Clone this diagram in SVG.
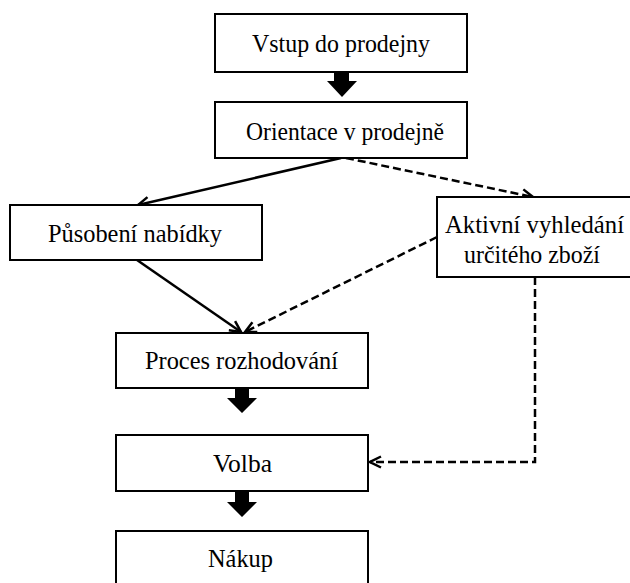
<svg xmlns="http://www.w3.org/2000/svg" width="630" height="583" viewBox="0 0 630 583">
  <style>
    .box { fill: #ffffff; stroke: #000000; stroke-width: 2; }
    .lbl { font-family: "Liberation Serif", "Times New Roman", serif; font-size: 26px; fill: #000000; text-anchor: start; }
    .solid { fill: none; stroke: #000000; stroke-width: 2.5; }
    .dash { fill: none; stroke: #000000; stroke-width: 2.5; stroke-dasharray: 8 4; }
    .fat { fill: #000000; }
  </style>
  <defs>
    <marker id="head" viewBox="0 0 14 14" refX="12.5" refY="7" markerWidth="14" markerHeight="14" markerUnits="userSpaceOnUse" orient="auto">
      <path d="M1.5,1.5 L12.5,7 L1.5,12.5" fill="none" stroke="#000000" stroke-width="2.5"/>
    </marker>
  </defs>
  <rect width="630" height="583" fill="#ffffff"/>

  <!-- connectors -->
  <g id="connectors">
    <!-- block arrows between stacked steps -->
    <path class="fat" d="M334,72 H349 V81 H357 L342,97 L327,81 H334 Z"/>
    <path class="fat" d="M235,388 H249 V398 H257 L242,413 L227,398 H235 Z"/>
    <path class="fat" d="M235,491 H249 V502 H257 L242,517 L227,502 H235 Z"/>
    <!-- branches -->
    <line class="solid" x1="341" y1="158" x2="138" y2="205" marker-end="url(#head)"/>
    <line class="dash" x1="346" y1="158" x2="533" y2="197" marker-end="url(#head)"/>
    <line class="solid" x1="137" y1="260" x2="241" y2="332" marker-end="url(#head)"/>
    <line class="dash" x1="437" y1="237" x2="245" y2="332" marker-end="url(#head)"/>
    <polyline class="dash" points="535,277 535,462 370,462" marker-end="url(#head)"/>
  </g>

  <g id="vstup">
    <rect class="box" x="215" y="14" width="252" height="58"/>
    <text class="lbl" x="252" y="52" textLength="178" lengthAdjust="spacingAndGlyphs">Vstup do prodejny</text>
  </g>
  <g id="orientace">
    <rect class="box" x="215" y="102" width="252" height="56"/>
    <text class="lbl" x="246" y="140" textLength="198" lengthAdjust="spacingAndGlyphs">Orientace v prodejně</text>
  </g>
  <g id="pusobeni">
    <rect class="box" x="10" y="205" width="252" height="55"/>
    <text class="lbl" x="48" y="242" textLength="174" lengthAdjust="spacingAndGlyphs">Působení nabídky</text>
  </g>
  <g id="aktivni">
    <rect class="box" x="437" y="197" width="210" height="80"/>
    <text class="lbl" x="445" y="233" textLength="179" lengthAdjust="spacingAndGlyphs">Aktivní vyhledání</text>
    <text class="lbl" x="464" y="263" textLength="136" lengthAdjust="spacingAndGlyphs">určitého zboží</text>
  </g>
  <g id="proces">
    <rect class="box" x="116" y="333" width="252" height="55"/>
    <text class="lbl" x="145" y="369" textLength="193" lengthAdjust="spacingAndGlyphs">Proces rozhodování</text>
  </g>
  <g id="volba">
    <rect class="box" x="116" y="435" width="252" height="56"/>
    <text class="lbl" x="213" y="472" textLength="59" lengthAdjust="spacingAndGlyphs">Volba</text>
  </g>
  <g id="nakup">
    <rect class="box" x="116" y="531" width="252" height="70"/>
    <text class="lbl" x="208" y="567" textLength="65" lengthAdjust="spacingAndGlyphs">Nákup</text>
  </g>
</svg>
